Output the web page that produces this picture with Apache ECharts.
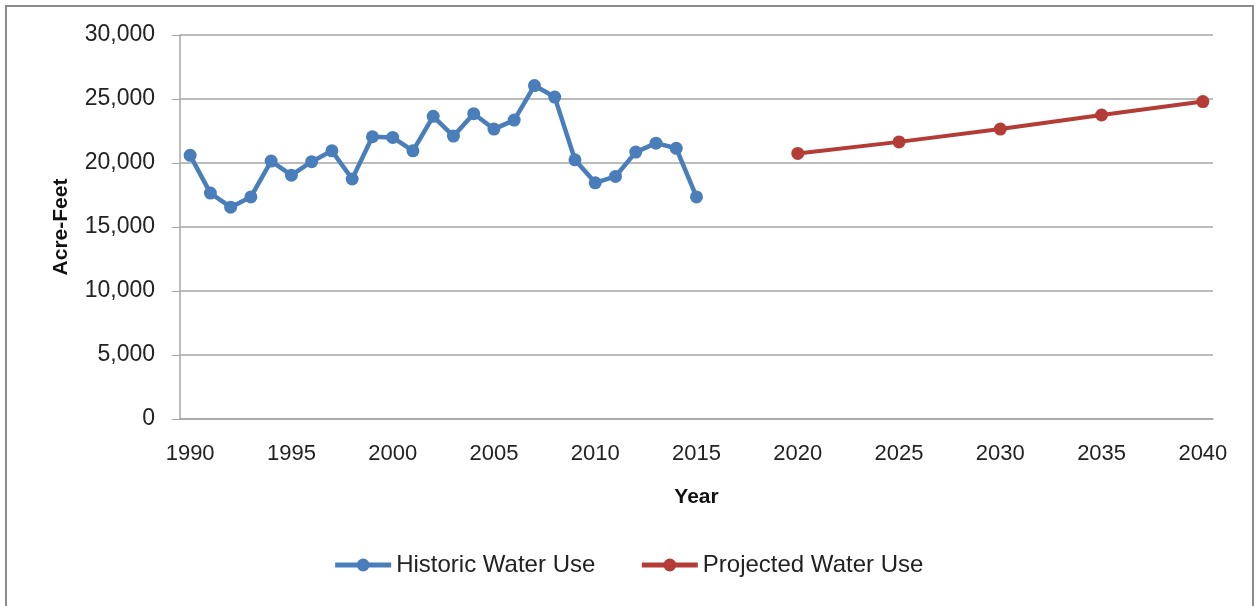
<!DOCTYPE html>
<html>
<head>
<meta charset="utf-8">
<script src="https://cdn.jsdelivr.net/npm/echarts@6/dist/echarts.min.js"></script>
<style>
  html, body { margin: 0; padding: 0; background: #fff; }
  #chart { width: 1256px; height: 606px; }
</style>
</head>
<body>
<div id="chart"></div>
<script>
// years 1990..2040 on a category axis
const years = [];
for (let y = 1990; y <= 2040; y++) years.push(String(y));

const historicYears = ['1990','1991','1992','1993','1994','1995','1996','1997','1998','1999',
  '2000','2001','2002','2003','2004','2005','2006','2007','2008','2009',
  '2010','2011','2012','2013','2014','2015'];
const historicValues = [20600, 17650, 16550, 17350, 20150, 19050, 20100, 20950, 18750, 22050,
  22000, 20950, 23650, 22100, 23850, 22650, 23350, 26050, 25150, 20250,
  18450, 18950, 20850, 21550, 21150, 17350];

const projectedYears = ['2020', '2025', '2030', '2035', '2040'];
const projectedValues = [20750, 21650, 22650, 23750, 24800];

const yTicks = [0, 5000, 10000, 15000, 20000, 25000, 30000];

function spread(keys, vals) {
  return years.map((y) => {
    const i = keys.indexOf(y);
    return i >= 0 ? vals[i] : null;
  });
}

const chart = echarts.init(document.getElementById('chart'));
const font = '"Liberation Sans", Arial, sans-serif';

chart.setOption({
  backgroundColor: '#fff',
  animation: false,
  textStyle: { fontFamily: font },
  graphic: [{
    type: 'rect',
    shape: { x: 6, y: 6, width: 1247, height: 620 },
    style: { fill: null, stroke: '#8c8c8c', lineWidth: 2 },
    silent: true,
  }],
  grid: { left: 180, right: 43, top: 35, bottom: 187 },
  legend: {
    bottom: 24,
    left: 'center',
    itemGap: 44,
    itemWidth: 56,
    itemHeight: 16,
    lineStyle: { width: 5 },
    textStyle: { fontSize: 24, color: '#222', fontFamily: font },
    data: ['Historic Water Use', 'Projected Water Use'],
  },
  xAxis: {
    type: 'category',
    data: years,
    boundaryGap: true,
    name: 'Year',
    nameLocation: 'middle',
    nameGap: 68,
    nameTextStyle: { fontSize: 21, fontWeight: 'bold', color: '#111' },
    axisLine: { lineStyle: { color: '#a6a6a6', width: 1.5 } },
    axisTick: { interval: 4, length: 7, lineStyle: { color: '#a6a6a6' } },
    axisLabel: { interval: 4, fontSize: 22, color: '#222', margin: 24 },
  },
  yAxis: {
    type: 'value',
    min: 0,
    max: 30000,
    interval: 5000,
    name: 'Acre-Feet',
    nameLocation: 'middle',
    nameGap: 108,
    nameRotate: 90,
    nameTextStyle: { fontSize: 21, fontWeight: 'bold', color: '#111' },
    axisLine: { show: true, lineStyle: { color: '#a6a6a6', width: 1.5 } },
    axisTick: { show: true, length: 8, inside: false, lineStyle: { color: '#a6a6a6' } },
    splitLine: { lineStyle: { color: '#a6a6a6', width: 1.5 } },
    axisLabel: {
      fontSize: 23,
      color: '#222',
      margin: 25,
      formatter: (v) => yTicks.includes(v) ? v.toLocaleString('en-US') : '',
    },
  },
  series: [
    {
      name: 'Historic Water Use',
      type: 'line',
      data: spread(historicYears, historicValues),
      symbol: 'circle',
      symbolSize: 13,
      color: '#4a7ebb',
      lineStyle: { color: '#4a7ebb', width: 4.5 },
      itemStyle: { color: '#4a7ebb' },
    },
    {
      name: 'Projected Water Use',
      type: 'line',
      data: spread(projectedYears, projectedValues),
      connectNulls: true,
      symbol: 'circle',
      symbolSize: 13,
      color: '#b43c36',
      lineStyle: { color: '#b43c36', width: 4 },
      itemStyle: { color: '#b43c36' },
    },
  ],
});
</script>
</body>
</html>
